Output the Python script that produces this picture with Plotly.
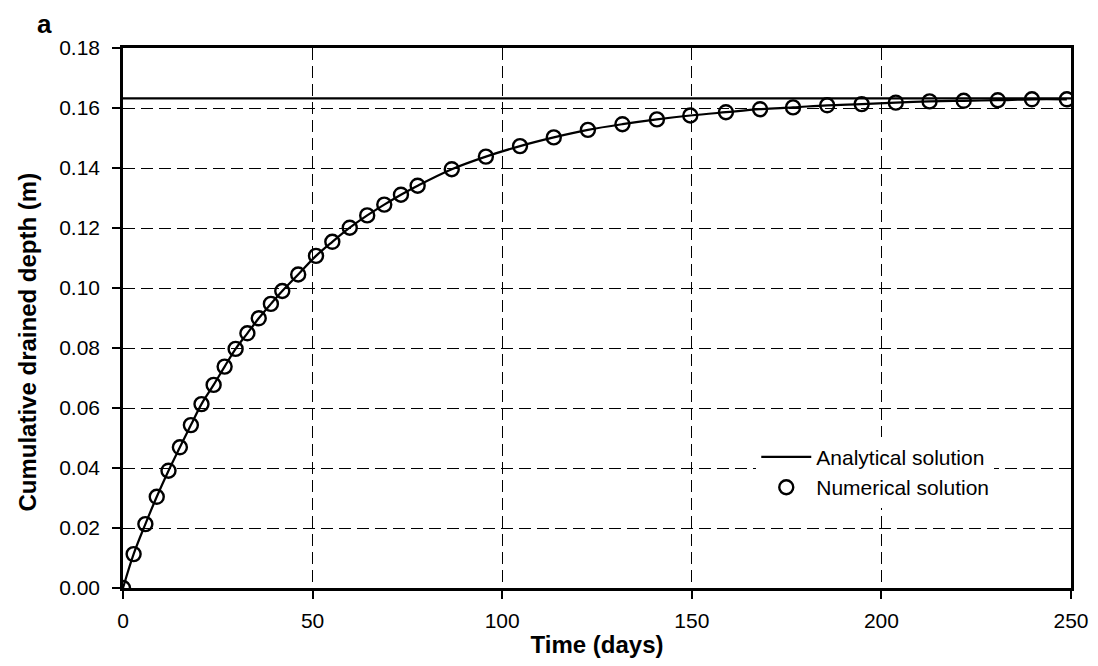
import plotly.graph_objects as go

# numerical solution
time_num = [0, 2.8, 5.9, 8.9, 12.0, 15.0, 17.9, 20.7, 23.9, 26.8, 29.7, 32.8, 35.8, 39.0,
            42.0, 46.2, 50.9, 55.2, 59.8, 64.4, 68.9, 73.3, 77.7, 86.7, 95.7, 104.7,
            113.6, 122.6, 131.7, 140.8, 149.6, 159.0, 168.0, 176.7, 185.7, 194.8,
            203.8, 212.7, 221.7, 230.7, 239.7, 248.9]
depth_num = [0.000, 0.0113, 0.0213, 0.0304, 0.0391, 0.0469, 0.0543, 0.0613, 0.0677, 0.0738,
             0.0797, 0.0849, 0.0899, 0.0947, 0.0990, 0.1045, 0.1107, 0.1154, 0.1201, 0.1242,
             0.1278, 0.1311, 0.1341, 0.1396, 0.1438, 0.1473, 0.1502, 0.1527, 0.1546,
             0.1562, 0.1575, 0.1586, 0.1596, 0.1602, 0.1609, 0.1613, 0.1618, 0.1622,
             0.1624, 0.1626, 0.1629, 0.1629]

# analytical curve and its limit value
time_ana = time_num
depth_ana = depth_num
limit_t = [0, 250]
limit_depth = [0.1632, 0.1632]

fig = go.Figure()

fig.add_trace(go.Scatter(x=time_ana, y=depth_ana, mode='lines', line_shape='spline',
                         line=dict(color='black', width=2.2), name='Analytical solution'))
fig.add_trace(go.Scatter(x=limit_t, y=limit_depth, mode='lines',
                         line=dict(color='black', width=2.2), showlegend=False))
fig.add_trace(go.Scatter(x=time_num, y=depth_num, mode='markers', name='Numerical solution',
                         marker=dict(symbol='circle-open', size=14, color='black',
                                     line=dict(width=2.4, color='black'))))

axis_style = dict(showline=True, linecolor='black', linewidth=2.5, mirror=True,
                  showgrid=True, gridcolor='black', gridwidth=1, griddash='12px,6px',
                  ticks='outside', ticklen=8, tickcolor='black', tickwidth=2,
                  zeroline=False, automargin=False, ticklabeloverflow='allow',
                  tickfont=dict(size=21, color='black'))

fig.update_xaxes(range=[0, 250], dtick=50, **axis_style, ticklabelstandoff=4,
                 title=dict(text='<b>Time (days)</b>', font=dict(size=24, color='black'), standoff=10))
fig.update_yaxes(range=[0, 0.18], dtick=0.02, tickformat='.2f', **axis_style, ticklabelstandoff=8)

# y title placed by hand (sits a little below the middle in the original)
fig.add_annotation(text='<b>Cumulative drained depth (m)</b>', textangle=-90,
                   xref='paper', yref='paper', x=-0.101, y=0.455, showarrow=False,
                   font=dict(size=24, color='black'), xanchor='center', yanchor='middle')

fig.add_annotation(text='<b>a</b>', xref='paper', yref='paper', x=-0.092, y=1.074,
                   showarrow=False, font=dict(size=26, color='black'), xanchor='left', yanchor='top',
                   borderpad=0)

fig.update_layout(width=1090, height=650, template='simple_white',
                  font=dict(family='Liberation Sans, Arial, sans-serif', color='black'),
                  plot_bgcolor='white', paper_bgcolor='white',
                  margin=dict(l=115, r=27, t=40, b=70),
                  legend=dict(x=0.668, y=0.28, xanchor='left', yanchor='top',
                              bgcolor='white', font=dict(size=21, color='black'),
                              tracegroupgap=0, itemwidth=50))

fig.write_html('out.html')
